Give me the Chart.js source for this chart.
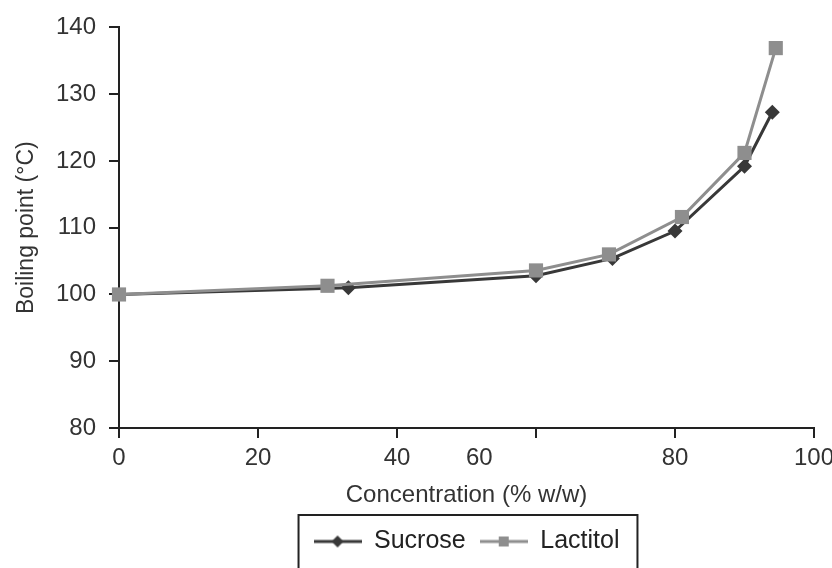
<!DOCTYPE html>
<html>
<head>
<meta charset="utf-8">
<script src="https://cdn.jsdelivr.net/npm/chart.js@4"></script>
<style>
    html, body { margin: 0; padding: 0; background: #fff; overflow: hidden; }
    canvas { display: block; }
</style>
</head>
<body>
<canvas id="bpChart" width="832" height="568"></canvas>
<script>
// values
const sucroseConc = [0, 33, 60, 71, 80, 90, 94];
const sucroseBp = [100.0, 101.0, 102.8, 105.4, 109.5, 119.2, 127.3];
const lactitolConc = [0, 30, 60, 70.5, 81, 90, 94.5];
const lactitolBp = [100.0, 101.3, 103.6, 106.0, 111.6, 121.2, 136.9];
const xTicks = [0, 20, 40, 60, 80, 100];
const yTicks = [80, 90, 100, 110, 120, 130, 140];
const seriesNames = ['Sucrose', 'Lactitol'];

const FONT = "'Liberation Sans', Arial, sans-serif";
const DARK = '#383838';
const GREY = '#8e8e8e';
const AXIS = '#222222';

function toPoints(xs, ys) {
    return xs.map((x, i) => ({x: x, y: ys[i]}));
}

// small canvas used as legend symbol: line with a marker on it
function legendSymbol(color, shape) {
    const c = document.createElement('canvas');
    c.width = 48;
    c.height = 20;
    const g = c.getContext('2d');
    g.strokeStyle = color;
    g.lineWidth = 3;
    g.beginPath();
    g.moveTo(0, 10);
    g.lineTo(48, 10);
    g.stroke();
    g.fillStyle = color;
    g.beginPath();
    if (shape === 'diamond') {
        g.moveTo(24, 4); g.lineTo(30, 10); g.lineTo(24, 16); g.lineTo(18, 10);
    } else {
        g.rect(19, 5, 10, 10);
    }
    g.closePath();
    g.fill();
    return c;
}
const symbols = [legendSymbol(DARK, 'diamond'), legendSymbol(GREY, 'square')];

// draws the frame around the legend items
const legendFrame = {
    id: 'legendFrame',
    afterDraw(chart) {
        const lg = chart.legend;
        if (!lg || !lg.legendHitBoxes.length) return;
        const boxes = lg.legendHitBoxes;
        const left = Math.min(...boxes.map(b => b.left)) - 15;
        const right = Math.max(...boxes.map(b => b.left + b.width)) + 18;
        const top = boxes[0].top - 14;
        const ctx = chart.ctx;
        ctx.save();
        ctx.strokeStyle = AXIS;
        ctx.lineWidth = 2;
        ctx.strokeRect(left, top, right - left, 60);
        ctx.restore();
    }
};

Chart.defaults.font.family = FONT;
Chart.defaults.color = '#333';

new Chart(document.getElementById('bpChart').getContext('2d'), {
    type: 'line',
    data: {
        datasets: [{
            label: seriesNames[0],
            data: toPoints(sucroseConc, sucroseBp),
            borderColor: DARK,
            backgroundColor: DARK,
            borderWidth: 3,
            pointStyle: 'rectRot',
            pointRadius: 7.5,
            pointBorderWidth: 0,
            order: 1,
            clip: false
        }, {
            label: seriesNames[1],
            data: toPoints(lactitolConc, lactitolBp),
            borderColor: GREY,
            backgroundColor: GREY,
            borderWidth: 3,
            pointStyle: 'rect',
            pointRadius: 10,
            pointBorderWidth: 0,
            order: 0,
            clip: false
        }]
    },
    options: {
        responsive: false,
        animation: false,
        layout: { padding: { left: 0, right: 0, top: 22, bottom: 4 } },
        scales: {
            x: {
                type: 'linear',
                min: xTicks[0],
                max: xTicks[xTicks.length - 1],
                afterBuildTicks: s => { s.ticks = xTicks.map(v => ({value: v})); },
                afterFit: s => { s.height = 87; s.paddingRight = 18; },
                ticks: {
                    autoSkip: false,
                    maxRotation: 0,
                    padding: 6,
                    font: { size: 24 },
                    color: '#333',
                    // the source figure prints "60" left of its tick
                    callback: v => v === 60 ? '60' + ' '.repeat(17) : String(v)
                },
                grid: { drawOnChartArea: false, drawTicks: true, tickLength: 10, color: AXIS, lineWidth: 2 },
                border: { color: AXIS, width: 2 },
                title: {
                    display: true,
                    text: 'Concentration (% w/w)',
                    font: { size: 24 },
                    color: '#333',
                    padding: { top: 0, bottom: 5 }
                }
            },
            y: {
                min: yTicks[0],
                max: yTicks[yTicks.length - 1],
                afterBuildTicks: s => { s.ticks = yTicks.map(v => ({value: v})); },
                afterFit: s => { s.width = 119; },
                ticks: { autoSkip: false, padding: 13, font: { size: 24 }, color: '#333' },
                grid: { drawOnChartArea: false, drawTicks: true, tickLength: 10, color: AXIS, lineWidth: 2 },
                border: { color: AXIS, width: 2 },
                title: {
                    display: true,
                    text: 'Boiling point (°C)',
                    font: { size: 23 },
                    color: '#333',
                    padding: { top: 13, bottom: 0 }
                }
            }
        },
        plugins: {
            legend: {
                position: 'bottom',
                fullSize: false,
                labels: {
                    usePointStyle: true,
                    pointStyleWidth: 48,
                    padding: 14,
                    font: { size: 25 },
                    color: '#222',
                    sort: (a, b) => a.datasetIndex - b.datasetIndex,
                    generateLabels: chart => {
                        const items = Chart.defaults.plugins.legend.labels.generateLabels(chart);
                        items.forEach(item => { item.pointStyle = symbols[item.datasetIndex]; });
                        return items;
                    }
                }
            },
            tooltip: { enabled: false }
        }
    },
    plugins: [legendFrame]
});
</script>
</body>
</html>
